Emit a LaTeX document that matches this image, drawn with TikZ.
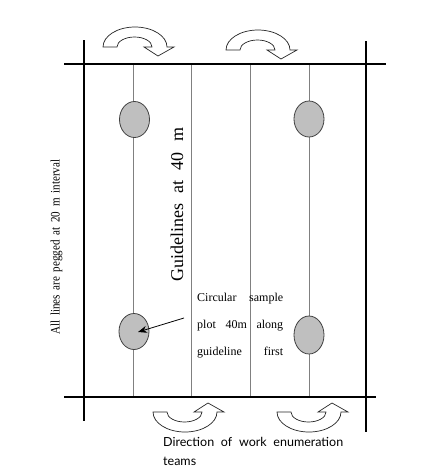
\documentclass[tikz,border=0pt]{standalone}
\usepackage{fontspec}
\setmainfont{Liberation Serif}
\newfontfamily\gillfont{Lato}
\usetikzlibrary{arrows.meta,shapes.geometric}
\begin{document}
\begin{tikzpicture}[x=1pt,y=1pt,yscale=-1,
  frameline/.style={line width=1.8pt,black},
  guideline/.style={line width=0.8pt,black!50},
  plotmark/.style={ellipse,draw=black!75,line width=0.8pt,fill=black!25,minimum width=30pt,minimum height=36pt,inner sep=0pt},
  bigarrow/.style={draw=black!85,line width=0.7pt,fill=white,line join=miter},
  turnarrow/.pic={\draw[bigarrow] (0,0) arc[start angle=180,end angle=360,x radius=32,y radius=20]
      -- (71,0) -- (55,9) -- (41,0) -- (49,0)
      arc[start angle=0,end angle=-180,x radius=17.5,y radius=10] -- cycle;},
  serif/.style={font=\fontsize{12}{14}\selectfont,inner sep=0pt}
]
\useasboundingbox (0,0) rectangle (445,474);
% frame lines
\coordinate (tl) at (64,64); \coordinate (tr) at (386,64);
\coordinate (bl) at (64,397); \coordinate (br) at (376,397);
\coordinate (lt) at (84,40); \coordinate (lb) at (84,421);
\coordinate (rt) at (366,41); \coordinate (rb) at (366,432);
% guidelines
\foreach \x/\n in {133/a,191.5/b,250/c,309/d}{
  \coordinate (g\n t) at (\x,64); \coordinate (g\n b) at (\x,397);
  \draw[guideline] (g\n t) -- (g\n b);
}
\draw[frameline] (tl) -- (tr);
\draw[frameline] (bl) -- (br);
\draw[frameline] (lt) -- (lb);
\draw[frameline] (rt) -- (rb);
% plots
\node[plotmark] (p1) at (134.5,119.5) {};
\node[plotmark] (p2) at (309,119) {};
\node[plotmark] (p3) at (134,331.5) {};
\node[plotmark,minimum height=38pt] (p4) at (309,335) {};
% curved arrows
\pic[yscale=-1] at (103,47) {turnarrow};
\pic[yscale=-1] at (226,50) {turnarrow};
\pic at (153,412) {turnarrow};
\pic at (277,412) {turnarrow};
% texts
\node[serif,anchor=base west] (l1) at (197,301) {\hbox to 86pt{Circular\hfill sample}};
\node[serif,anchor=base west] (l2) at (197,328) {\hbox to 86pt{plot\hfill 40m\hfill along}};
\node[serif,anchor=base west] (l3) at (197,355) {\hbox to 86pt{guideline\hfill first}};
\coordinate (astart) at (184,318);
\coordinate (aend) at (138,332);
\draw[line width=0.8pt,-{Stealth[length=9pt,width=7pt]}] (astart) -- (aend);
\node[font=\fontsize{18}{20}\selectfont,inner sep=0pt,rotate=90,anchor=base west] (gtext) at (183,282)
  {\hbox to 154pt{Guidelines\hfill at\hfill 40\hfill m}};
\node[font=\fontsize{13}{14}\selectfont,inner sep=0pt,rotate=90,xscale=0.85,anchor=base west] (ltext) at (59.5,335)
  {\hbox to 206pt{All\hfill lines\hfill are\hfill pegged\hfill at\hfill 20\hfill m\hfill interval}};
\node[font=\gillfont\fontsize{12.5}{14}\selectfont,inner sep=0pt,anchor=base west] (d1) at (163,446.5)
  {\hbox to 180pt{Direction\hfill of\hfill work\hfill enumeration}};
\node[font=\gillfont\fontsize{12.5}{14}\selectfont,inner sep=0pt,anchor=base west] (d2) at (163,465) {teams};
\end{tikzpicture}
\end{document}
